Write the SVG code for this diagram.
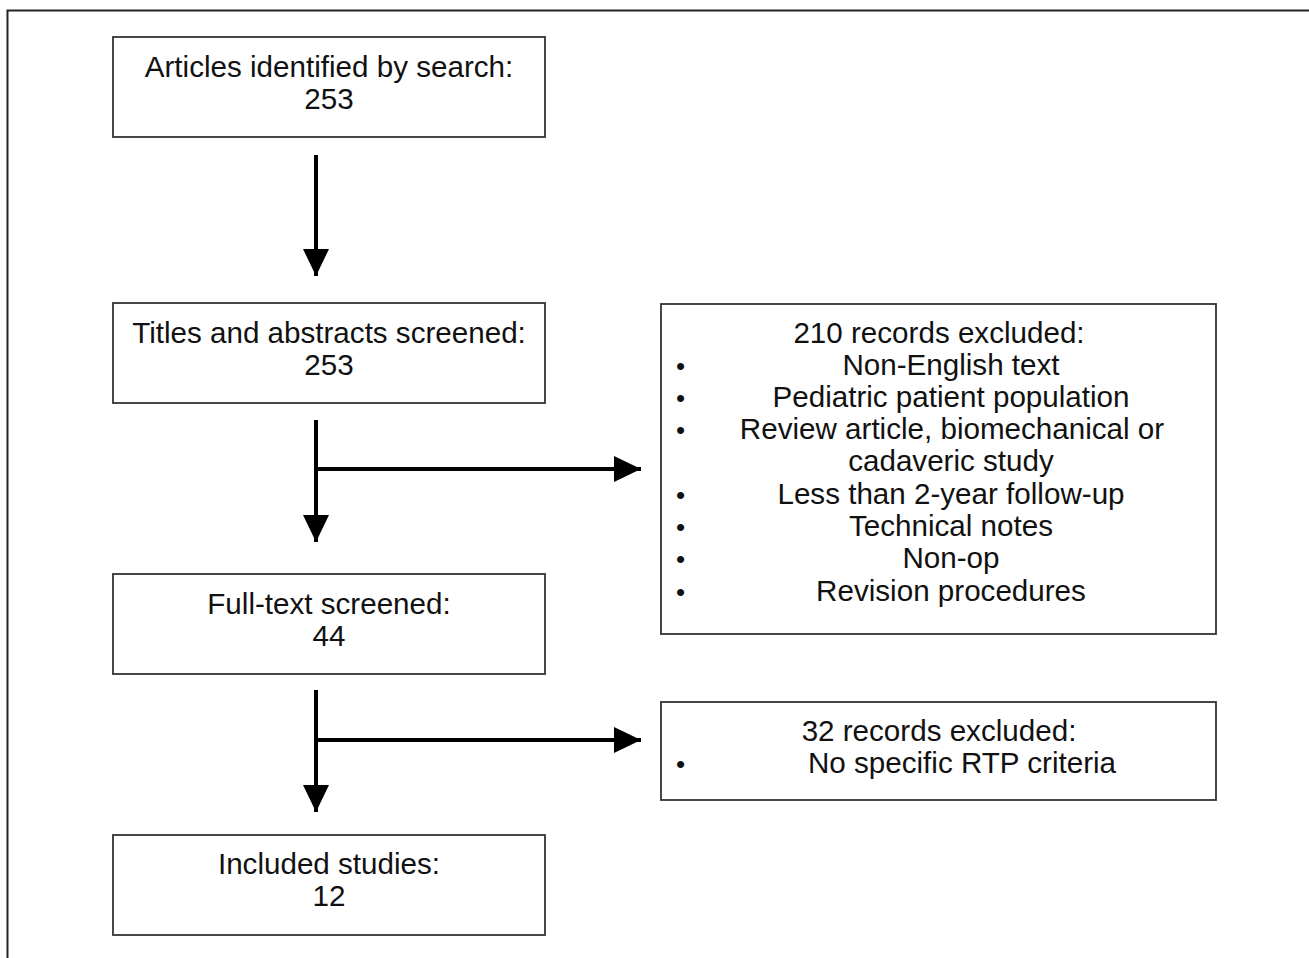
<svg xmlns="http://www.w3.org/2000/svg" width="1309" height="958" viewBox="0 0 1309 958">
<style>
.box{fill:#fff;stroke:#333;stroke-width:1.8}
.t{font-family:"Liberation Sans",Arial,sans-serif;font-size:29.6px;fill:#111;text-anchor:middle}
.b{font-family:"Liberation Sans",Arial,sans-serif;font-size:26px;fill:#111}
.ln{stroke:#000;stroke-width:4;fill:none}
</style>
<defs>
<marker id="ah" markerUnits="userSpaceOnUse" markerWidth="27" markerHeight="27" refX="27" refY="13" orient="auto" viewBox="0 0 27 26">
<path d="M0,0 L27,13 L0,26 Z" fill="#000"/>
</marker>
</defs>
<rect width="1309" height="958" fill="#fff"/>
<path d="M7.5,958 V10.5 H1309" fill="none" stroke="#222" stroke-width="2"/>
<g id="n1"><rect class="box" x="113" y="37" width="432" height="100"/>
<text class="t" x="329" y="77">Articles identified by search:</text>
<text class="t" x="329" y="109">253</text></g>
<g id="n2"><rect class="box" x="113" y="303" width="432" height="100"/>
<text class="t" x="329" y="343">Titles and abstracts screened:</text>
<text class="t" x="329" y="375">253</text></g>
<g id="n3"><rect class="box" x="661" y="304" width="555" height="330"/>
<text class="t" x="939" y="343">210 records excluded:</text>
<text class="b" x="676" y="375">•</text><text class="t" x="951" y="375">Non-English text</text>
<text class="b" x="676" y="407">•</text><text class="t" x="951" y="407">Pediatric patient population</text>
<text class="b" x="676" y="439">•</text><text class="t" x="952" y="439">Review article, biomechanical or</text>
<text class="t" x="951" y="471">cadaveric study</text>
<text class="b" x="676" y="504">•</text><text class="t" x="951" y="504">Less than 2-year follow-up</text>
<text class="b" x="676" y="536">•</text><text class="t" x="951" y="536">Technical notes</text>
<text class="b" x="676" y="568">•</text><text class="t" x="951" y="568">Non-op</text>
<text class="b" x="676" y="601">•</text><text class="t" x="951" y="601">Revision procedures</text></g>
<g id="n4"><rect class="box" x="113" y="574" width="432" height="100"/>
<text class="t" x="329" y="614">Full-text screened:</text>
<text class="t" x="329" y="646">44</text></g>
<g id="n5"><rect class="box" x="661" y="702" width="555" height="98"/>
<text class="t" x="939" y="741">32 records excluded:</text>
<text class="b" x="676" y="773">•</text><text class="t" x="962" y="773">No specific RTP criteria</text></g>
<g id="n6"><rect class="box" x="113" y="835" width="432" height="100"/>
<text class="t" x="329" y="874">Included studies:</text>
<text class="t" x="329" y="906">12</text></g>
<g id="connectors">
<line class="ln" x1="316" y1="155" x2="316" y2="276" marker-end="url(#ah)"/>
<line class="ln" x1="316" y1="420" x2="316" y2="542" marker-end="url(#ah)"/>
<line class="ln" x1="316" y1="469" x2="641" y2="469" marker-end="url(#ah)"/>
<line class="ln" x1="316" y1="690" x2="316" y2="812" marker-end="url(#ah)"/>
<line class="ln" x1="316" y1="740" x2="641" y2="740" marker-end="url(#ah)"/>
</g>
</svg>
